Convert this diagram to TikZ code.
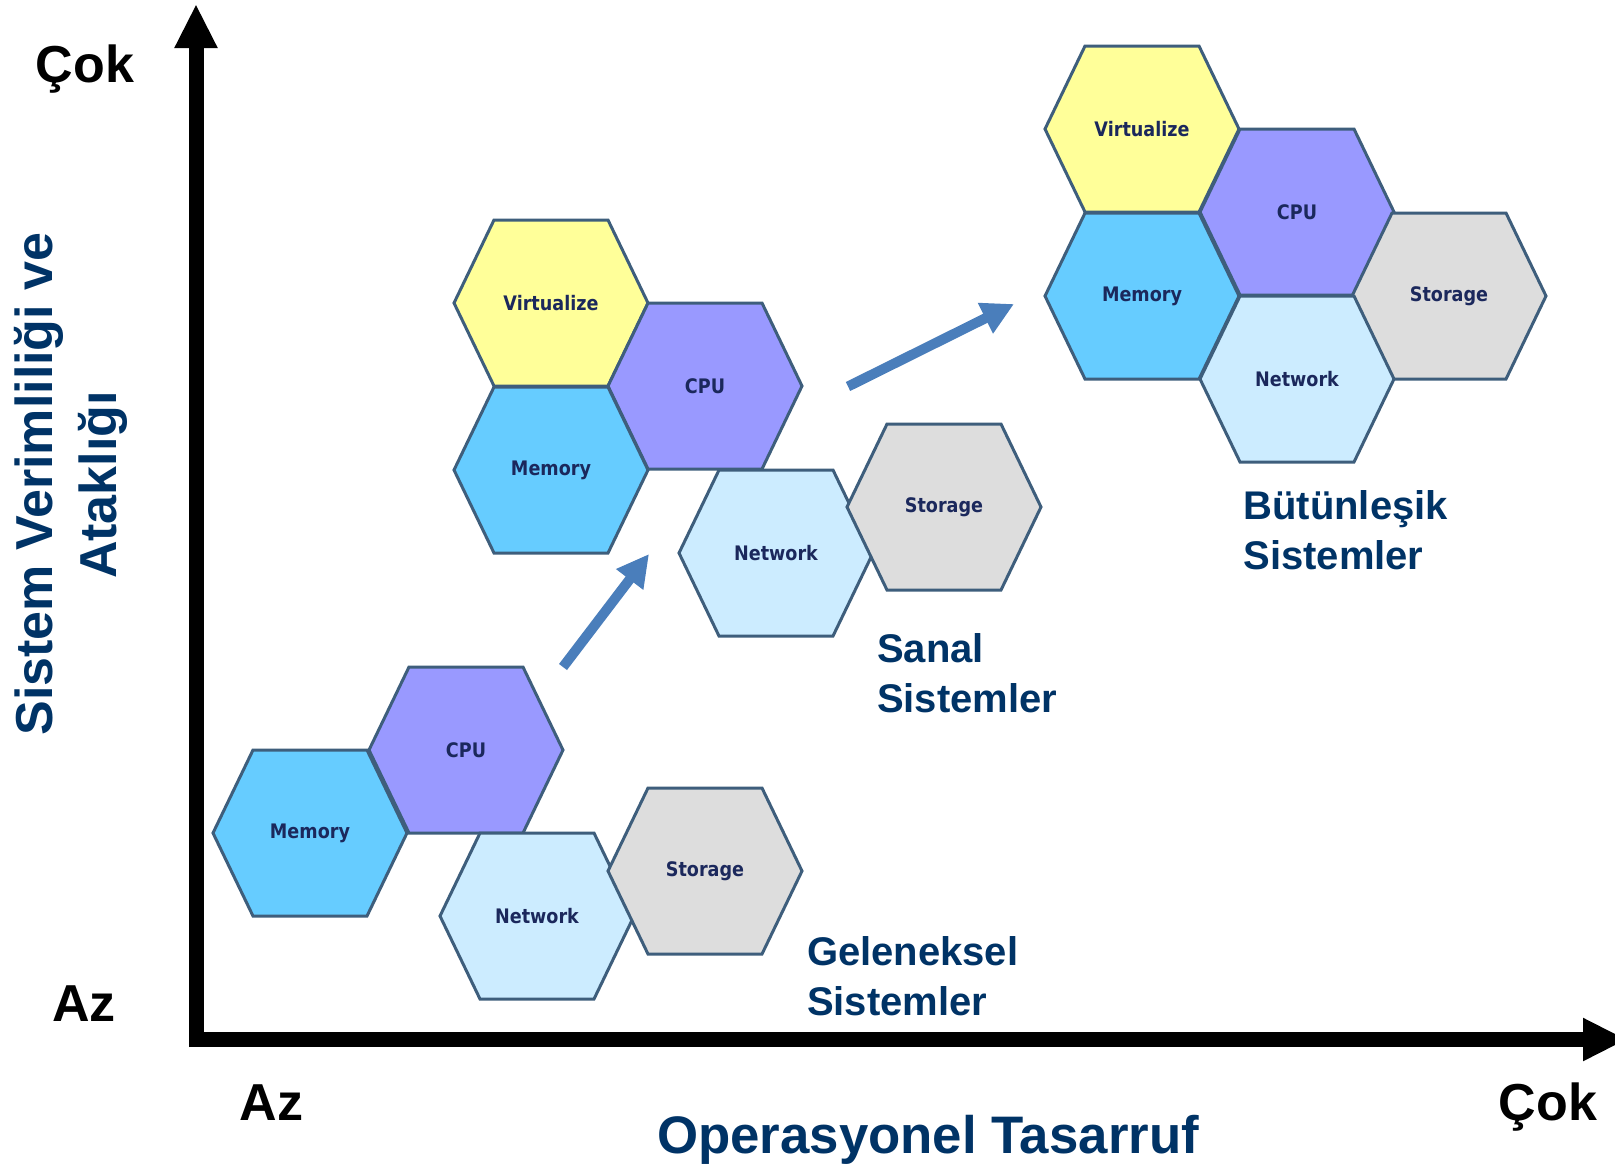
\documentclass[tikz,border=0pt]{standalone}
\usepackage{fontspec}
\setmainfont{Liberation Sans}
\newfontfamily\hexfont{DejaVu Sans}[FakeStretch=0.88]
\usetikzlibrary{arrows.meta}
\definecolor{titleblue}{RGB}{0,51,102}
\definecolor{hexline}{RGB}{62,94,124}
\definecolor{hextext}{RGB}{27,40,92}
\definecolor{arrowblue}{RGB}{74,126,187}
\definecolor{virtfill}{RGB}{255,255,153}
\definecolor{cpufill}{RGB}{153,153,255}
\definecolor{memfill}{RGB}{102,204,255}
\definecolor{netfill}{RGB}{204,236,255}
\definecolor{stofill}{RGB}{221,221,221}
\tikzset{
  hexedge/.style={draw=hexline, line width=1.5pt, line join=miter},
  hexlabel/.style={font=\hexfont\bfseries\fontsize{10}{12}\selectfont, text=hextext, inner sep=0pt},
  axisline/.style={line width=7.5pt, -{Triangle[length=22pt,width=20pt]}},
  bluearrow/.style={draw=arrowblue, line width=5pt, -{Triangle[length=16pt,width=16pt]}},
  bigblack/.style={font=\bfseries\fontsize{26}{30}\selectfont, inner sep=0pt, anchor=base},
  bigtitle/.style={bigblack, text=titleblue},
  grouplabel/.style={font=\bfseries\fontsize{20}{24}\selectfont, text=titleblue, inner sep=0pt, anchor=base west},
}
\newcommand\HexCell[5]{%
  \path[hexedge, fill=#4] (#2,#3) ++(-97,0) -- ++(40,-83) -- ++(114,0) -- ++(40,83) -- ++(-40,83) -- ++(-114,0) -- cycle;
  \node[hexlabel] (#1) at (#2,#3) {#5};}
\begin{document}
\begin{tikzpicture}[x=0.5pt,y=-0.5pt]
\useasboundingbox (0,0) rectangle (1615,1164);
\clip (0,0) rectangle (1615,1164);
\fill[white] (0,0) rectangle (1615,1164);
% axes
\coordinate (yaxbot) at (196,1047);
\coordinate (yaxtop) at (196,4);
\coordinate (xaxleft) at (189,1039.5);
\coordinate (xaxright) at (1627,1039.5);
\draw[axisline] (yaxbot) -- (yaxtop);
\draw[axisline] (xaxleft) -- (xaxright);
% axis labels
\node[bigblack] (ycok) at (85,82) {Çok};
\node[bigblack] (yaz) at (84,1021) {Az};
\node[bigblack] (xaz) at (271.5,1120) {Az};
\node[bigblack] (xcok) at (1548,1120) {Çok};
\node[bigtitle, font=\bfseries\fontsize{26.4}{30}\selectfont] (xtitle) at (928,1153) {Operasyonel Tasarruf};
\node[bigtitle, rotate=90] (ytitlea) at (52,484) {Sistem Verimliliği ve};
\node[bigtitle, rotate=90] (ytitleb) at (116.5,485) {Ataklığı};
% traditional
\HexCell{gmem}{310}{833}{memfill}{Memory}
\HexCell{gcpu}{466}{750}{cpufill}{CPU}
\HexCell{gnet}{537}{916}{netfill}{Network}
\HexCell{gsto}{705}{871}{stofill}{Storage}
% virtual
\HexCell{svir}{551}{303}{virtfill}{Virtualize}
\HexCell{scpu}{705}{386}{cpufill}{CPU}
\HexCell{smem}{551}{470}{memfill}{Memory}
\HexCell{snet}{776}{553}{netfill}{Network}
\HexCell{ssto}{944}{507}{stofill}{Storage}
% converged
\HexCell{bvir}{1142}{129}{virtfill}{Virtualize}
\HexCell{bcpu}{1297}{212}{cpufill}{CPU}
\HexCell{bmem}{1142}{296}{memfill}{Memory}
\HexCell{bsto}{1449}{296}{stofill}{Storage}
\HexCell{bnet}{1297}{379}{netfill}{Network}
% arrows
\coordinate (arra) at (563,667);
\coordinate (arrb) at (649,554);
\coordinate (arrc) at (848,386.5);
\coordinate (arrd) at (1014,304);
\draw[bluearrow] (arra) -- (arrb);
\draw[bluearrow] (arrc) -- (arrd);
% group labels
\node[grouplabel] (gela) at (806.7,965) {Geleneksel};
\node[grouplabel] (gelb) at (806.7,1015) {Sistemler};
\node[grouplabel] (sana) at (876.7,662) {Sanal};
\node[grouplabel] (sanb) at (876.7,712) {Sistemler};
\node[grouplabel] (buta) at (1243,519) {Bütünleşik};
\node[grouplabel] (butb) at (1243,569) {Sistemler};
\end{tikzpicture}
\end{document}
